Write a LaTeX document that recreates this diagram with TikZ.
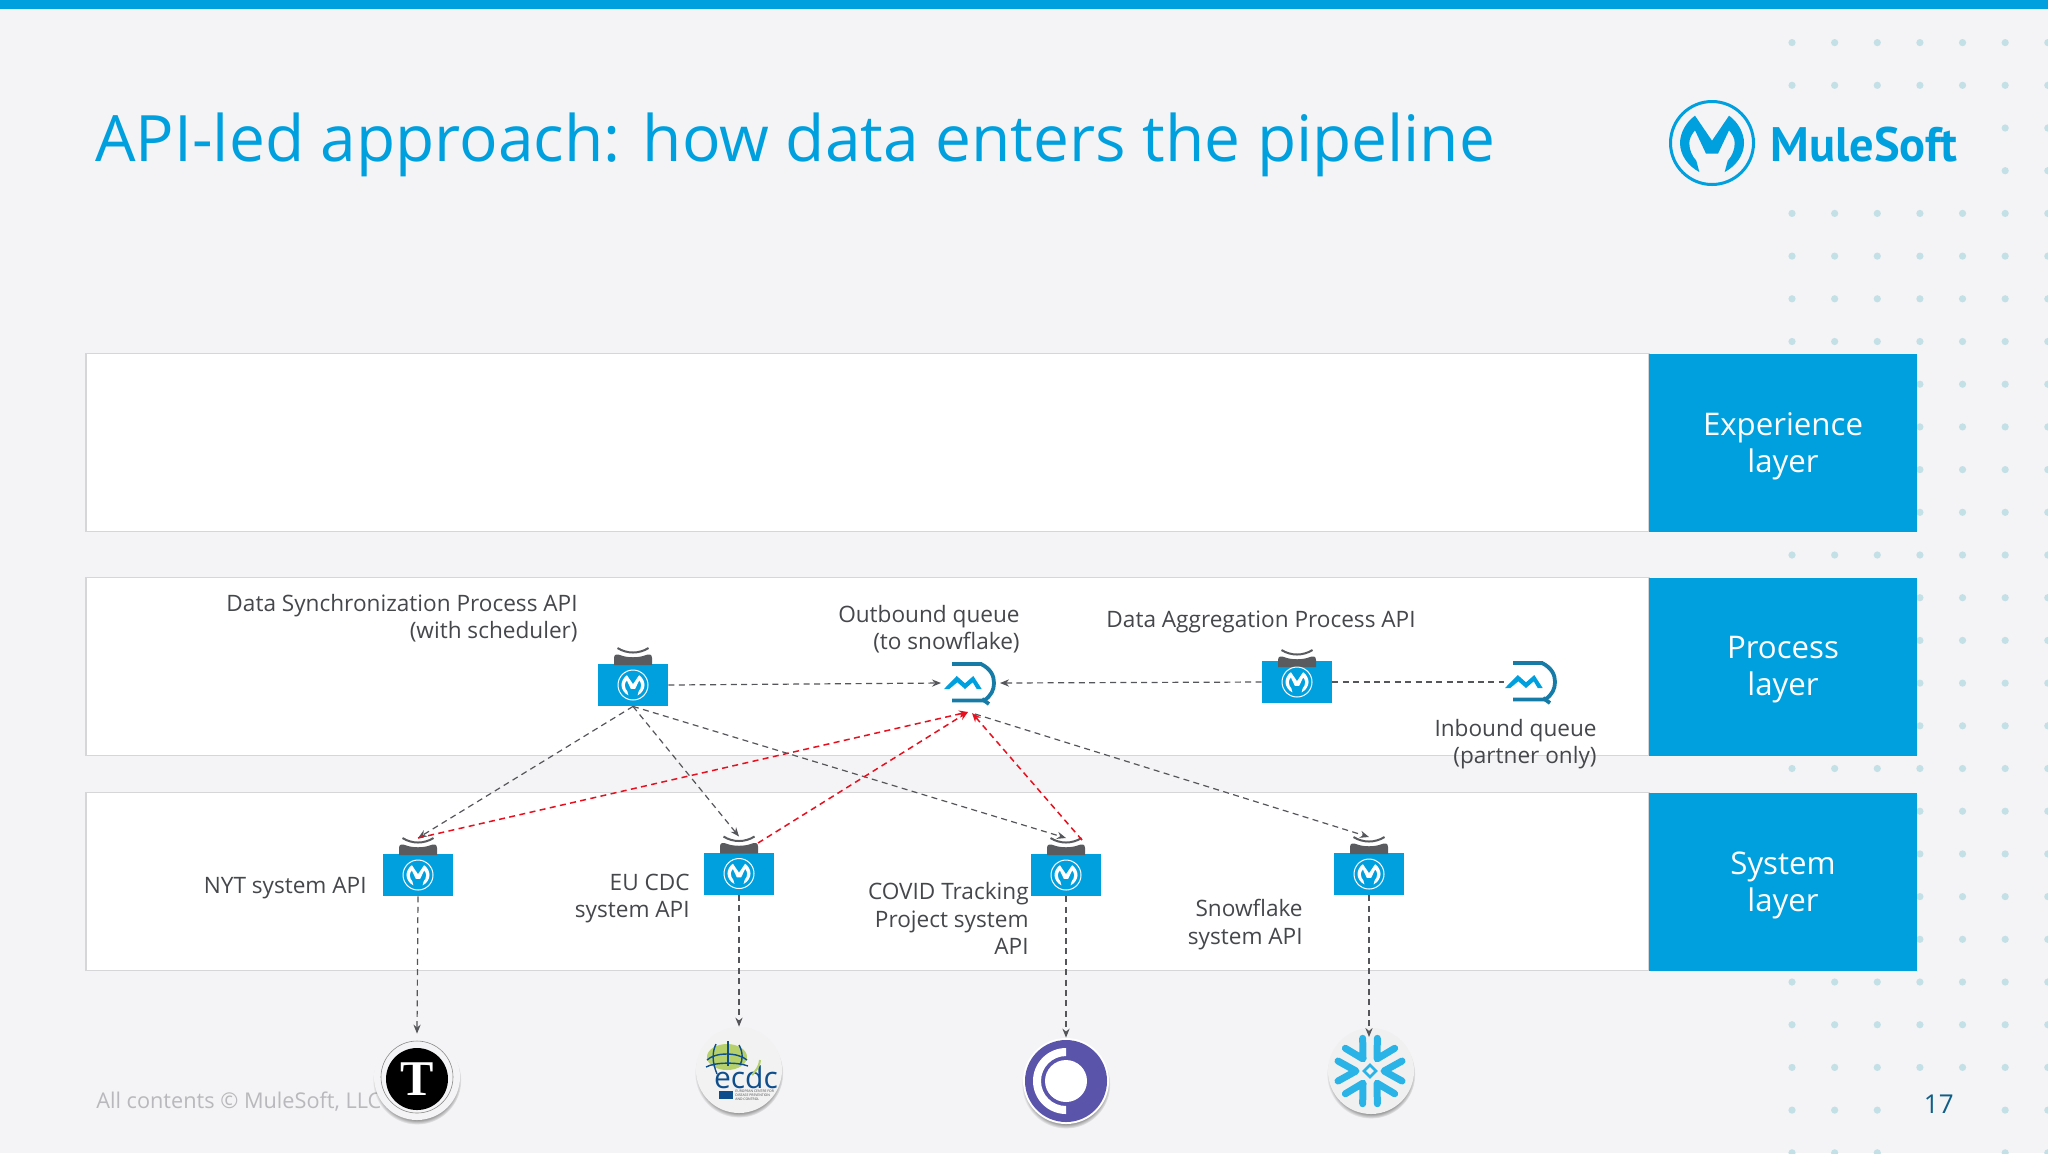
\documentclass[tikz,border=0pt]{standalone}
\usepackage{fontspec}
\setmainfont{Open Sans}
\newfontfamily\brandfont{PT Sans}
\newfontfamily\logofont{Liberation Serif}
\usetikzlibrary{arrows.meta,shadows}

\definecolor{pagebg}{HTML}{F4F3F5}
\definecolor{muleblue}{HTML}{00A0DF}
\definecolor{dotcol}{HTML}{C3E0E7}
\definecolor{bandline}{HTML}{D6D6D9}
\definecolor{labelcol}{HTML}{45474B}
\definecolor{footcol}{HTML}{B9B9BD}
\definecolor{capgrey}{HTML}{5A5B5E}
\definecolor{linegrey}{HTML}{55565A}
\definecolor{redline}{HTML}{E8101E}
\definecolor{queueteal}{HTML}{167BA6}
\definecolor{pagenum}{HTML}{0F5E87}
\definecolor{covidcol}{HTML}{5A55AB}
\definecolor{snowcol}{HTML}{2AB3E6}
\definecolor{ecdcnavy}{HTML}{0E4E8C}
\definecolor{ecdcgreen}{HTML}{B6D06C}

\tikzset{
  pics/mulemark/.style={code={
    \fill[pic actions] (-12.7,29) .. controls (-24,23) and (-32,12) .. (-32,0)
      .. controls (-32,-10) and (-26,-21) .. (-17,-27.3) -- (0,-2.3) -- (17,-27.3)
      .. controls (26,-21) and (32,-10) .. (32,0) .. controls (32,12) and (24,23) .. (12.7,29)
      -- (15.7,17.7) .. controls (20,13) and (22.7,7) .. (22.7,0)
      .. controls (22.7,-5) and (20,-9) .. (17,-12.7) -- (6,10.7) -- (-6,10.7) -- (-17,-12.7)
      .. controls (-20,-9) and (-22.7,-5) .. (-22.7,0) .. controls (-22.7,7) and (-20,13) .. (-15.7,17.7)
      -- cycle;
  }},
  pics/apinode/.style={code={
    \node[apibox] (-box) at (0,0) {};
    \begin{scope}[shift={(0,#1)}]
      \fill[capgrey] (-19,-20) -- (-19,-27) .. controls (-19,-31) and (-16,-31) .. (-13,-30)
        .. controls (-6,-27) and (6,-27) .. (13,-30) .. controls (16,-31) and (19,-31) .. (19,-27)
        -- (19,-20) -- cycle;
      \draw[capgrey, line width=1pt] (-15.5,-37) .. controls (-6,-31) and (6,-31) .. (15.5,-37);
      \coordinate (-top) at (0,-37);
    \end{scope}
    \draw[white, line width=.5pt] (0,0) circle (15);
    \pic[fill=white, scale=.36] {mulemark};
  }},
  pics/queue/.style={code={
    \node[queuebox] (-box) at (0,0) {};
    \coordinate (-l) at (-28,0);
    \coordinate (-r) at (31,0);
    \draw[queueteal, line width=1.9pt] (-17,-19) -- (12,-19) .. controls (22,-14) and (25,-7) .. (25,0)
      .. controls (25,7) and (22,13) .. (15,17.5) -- (-17,17.5);
    \draw[queueteal, line width=1.9pt] (13,16) -- (20,21);
    \fill[muleblue] (-25,6) -- (-12.3,-7) -- (-4,0.3) -- (4.3,-7) -- (12.7,6) -- (7.7,6) -- (3.7,-0.7)
      -- (-4,6) -- (-11.7,-0.7) -- (-19.7,6) -- cycle;
  }}
}

\begin{document}
\begin{tikzpicture}[
  x=0.5pt, y=-0.5pt,
  >={Stealth[length=4.5pt,width=3.6pt]},
  band/.style={draw=bandline, fill=white, line width=.6pt, inner sep=0pt,
               minimum width=781.5pt, minimum height=89pt},
  layer/.style={fill=muleblue, inner sep=0pt, minimum width=134pt, minimum height=89pt},
  layertext/.style={text=white, align=center, inner sep=0pt,
                font=\fontsize{15.6}{18.5}\selectfont},
  apibox/.style={fill=muleblue, inner sep=0pt, minimum width=35pt, minimum height=21pt},
  queuebox/.style={inner sep=0pt, minimum width=26pt, minimum height=21pt},
  lbl/.style={text=labelcol, align=right, anchor=east, inner sep=0pt, yshift=-.7pt,
              font=\fontsize{11.3}{13.7}\selectfont},
  logo/.style={circle, inner sep=0pt, minimum size=43pt, fill=#1,
               circular drop shadow={shadow xshift=0pt, shadow yshift=-1.6pt, shadow scale=1.03, fill=black, opacity=.5}},
  flow/.style={->, draw=linegrey, line width=.6pt, dash pattern=on 3pt off 2.2pt},
  redflow/.style={->, draw=redline, line width=.75pt, dash pattern=on 3pt off 2.2pt}
]
\useasboundingbox (0,0) rectangle (2048,1153);
\fill[pagebg] (0,0) rectangle (2048,1153);
\fill[muleblue] (0,0) rectangle (2048,9);

% ---- Dots ----
\foreach \row in {0,1,4,5,...,24}
  \foreach \col in {0,...,6}
    \fill[dotcol] ({1792+42.63*\col},{42.6+42.7*\row}) circle (3.6);
\foreach \row in {2,3}
  \foreach \col in {5,6}
    \fill[dotcol] ({1792+42.63*\col},{42.6+42.7*\row}) circle (3.6);
\foreach \row in {25,26}
  \foreach \col in {0,1,2,5,6}
    \fill[dotcol] ({1792+42.63*\col},{42.6+42.7*\row}) circle (3.6);

% ---- Title and brand ----
\node[anchor=base west, inner sep=0pt, text=muleblue, font=\fontsize{32}{36}\selectfont] (title) at (95,161)
  {API-led approach: how data enters the pipeline};
\draw[muleblue, line width=1.5pt] (1712,143) circle (41.5);
\pic[fill=muleblue] at (1712,143) {mulemark};
\node[anchor=base west, inner sep=0pt, text=muleblue, font=\brandfont\bfseries\fontsize{24.2}{30}\selectfont] (brand) at (1770,161)
  {MuleSoft};

% ---- Bands ----
\node[band] (expband) at (867.5,442.5) {};
\node[band] (procband) at (867.5,666.5) {};
\node[band] (sysband) at (867.5,881.5) {};

\node[layer] (explayer) at (1783,442.5) {};
\node[layer] (proclayer) at (1783,666.5) {};
\node[layer] (syslayer) at (1783,881.5) {};
\node[layertext] (exptext) at (1783,446) {Experience\\layer};
\node[layertext] (proctext) at (1783,670) {Process\\layer};
\node[layertext] (systext) at (1783,885) {System\\layer};

% ---- Footer ----
\node[anchor=west, inner sep=0pt, text=footcol, font=\fontsize{10.85}{12}\selectfont] (foot) at (96,1102)
  {All contents © MuleSoft, LLC};
\node[anchor=east, inner sep=0pt, text=pagenum, font=\fontsize{13}{15}\selectfont] (pageno) at (1954,1104) {17};

% ---- API nodes and queues ----
\pic (dsp) at (633,685) {apinode=0};
\pic (dap) at (1297,682) {apinode=5};
\pic (nyt) at (418,875) {apinode=0};
\pic (eu) at (739,873.5) {apinode=0};
\pic (cov) at (1066,875) {apinode=0};
\pic (snf) at (1369,874) {apinode=0};
\pic (outq) at (969,683) {queue};
\pic (inq) at (1530,682) {queue};

% ---- Labels ----
\node[lbl] (dsplbl) at (578,617) {Data Synchronization Process API\\(with scheduler)};
\node[lbl] (outlbl) at (1020,628) {Outbound queue\\(to snowflake)};
\node[lbl] (daplbl) at (1416,621) {Data Aggregation Process API};
\node[lbl] (inlbl) at (1597,743) {Inbound queue\\(partner only)};
\node[lbl] (nytlbl) at (367,887) {NYT system API};
\node[lbl] (eulbl) at (690,897) {EU CDC\\system API};
\node[lbl] (covlbl) at (1029,917) {COVID Tracking\\Project system\\API};
\node[lbl] (snflbl) at (1303,923) {Snowflake\\system API};

% ---- Logos ----
\node[logo=pagebg] (nytlogo) at (417,1077) {};
\draw[black!45, line width=.3pt] (417,1077) circle (36);
\fill[black] (417,1079) circle (31);
\node[inner sep=0pt, text=white, font=\logofont\bfseries\fontsize{25}{25}\selectfont] (nytmark) at (417,1079) {T};

\node[logo=black!5] (ecdclogo) at (739,1070) {};
\fill[ecdcgreen] (727,1057) ellipse (20 and 13);
\draw[ecdcnavy, line width=.7pt] (707,1060) .. controls (715,1052) and (738,1052) .. (747,1060);
\draw[ecdcnavy, line width=.7pt] (706,1067) .. controls (715,1062) and (738,1062) .. (748,1066);
\draw[ecdcnavy, line width=.7pt] (716,1044) .. controls (712,1052) and (712,1062) .. (717,1074);
\draw[ecdcnavy, line width=.7pt] (728,1041) -- (728,1066);
\draw[ecdcnavy, line width=.7pt] (739,1045) .. controls (743,1052) and (743,1060) .. (740,1065);
\node[inner sep=0pt, text=ecdcnavy, font=\fontsize{15}{15}\selectfont] (ecdctext) at (746,1077) {ecdc};
\draw[ecdcgreen, line width=1pt] (752,1075) .. controls (756,1070) and (759,1068) .. (760,1060);
\fill[ecdcnavy] (719,1091) rectangle (733,1099);
\node[anchor=west, align=left, inner sep=0pt, text=labelcol, font=\fontsize{1.7}{2}\selectfont] (ecdcsub) at (735,1095)
  {EUROPEAN CENTRE FOR\\DISEASE PREVENTION\\AND CONTROL};

\node[logo=white] (covlogo) at (1066,1081) {};
\fill[covidcol] (1066,1081) circle (41);
\fill[white] (1066,1081) circle (21);
\fill[white] (1066,1048) arc[start angle=-90, end angle=-270, radius=33] -- (1066,1106)
  arc[start angle=90, end angle=270, radius=25] -- cycle;

\node[logo=black!6] (snflogo) at (1371,1071) {};
\foreach \ang in {0,60,...,300}
  \draw[snowcol, line width=3.5pt, line cap=round, line join=round, rotate around={\ang:(1370,1071)}]
    (1402,1061) -- (1384,1071) -- (1402,1081);
\draw[snowcol, line width=1.3pt] (1370,1065) -- (1376,1071) -- (1370,1077) -- (1364,1071) -- cycle;
\coordinate (snftip) at (1369,1037);

% ---- Edges ----
\coordinate (outq-in) at (968,712);
\coordinate (outq-in2) at (972,713);
\coordinate (outq-out) at (975,714);
\coordinate (eu-red) at (758,843);
\coordinate (cov-red) at (1082,840);

\draw[flow] (dsp-box.east) -- (outq-l);
\draw[flow] (dap-box.west) -- (outq-r);
\draw[flow, -] (dap-box.east) -- (inq-box.west);
\draw[flow] (dsp-box.south) -- (nyt-top);
\draw[flow] (dsp-box.south) -- (eu-top);
\draw[flow] (dsp-box.south) -- (cov-top);
\draw[flow] (outq-out) -- (snf-top);

\draw[redflow] (nyt-top) -- (outq-in);
\draw[redflow] (eu-red) -- (outq-in);
\draw[redflow] (cov-red) -- (outq-in2);

\draw[flow] (nyt-box.south) -- (nytlogo.north);
\draw[flow] (eu-box.south) -- (ecdclogo.north);
\draw[flow] (cov-box.south) -- (covlogo.north);
\draw[flow] (snf-box.south) -- (snftip);

\end{tikzpicture}
\end{document}
